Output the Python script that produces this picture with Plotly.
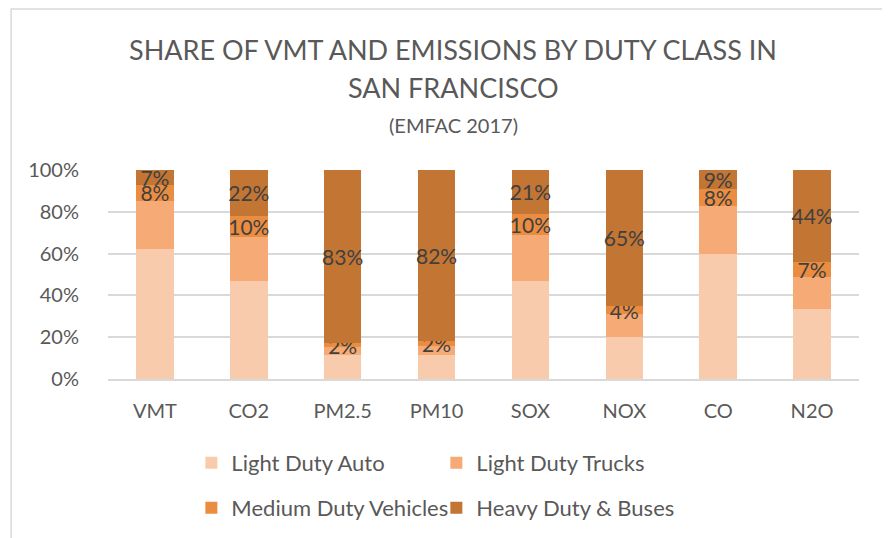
import plotly.graph_objects as go

categories = ["VMT", "CO2", "PM2.5", "PM10", "SOX", "NOX", "CO", "N2O"]
light_duty_auto = [0.62, 0.47, 0.115, 0.115, 0.47, 0.20, 0.60, 0.335]
light_duty_trucks = [0.23, 0.21, 0.038, 0.045, 0.22, 0.11, 0.23, 0.155]
medium_duty = [0.08, 0.10, 0.017, 0.02, 0.10, 0.04, 0.08, 0.07]
heavy_duty = [0.07, 0.22, 0.83, 0.82, 0.21, 0.65, 0.09, 0.44]

series = [
    ("Light Duty Auto", light_duty_auto, "#F8CBAD", False, "legend"),
    ("Light Duty Trucks", light_duty_trucks, "#F6AA75", False, "legend"),
    ("Medium Duty Vehicles", medium_duty, "#EB8D40", True, "legend2"),
    ("Heavy Duty & Buses", heavy_duty, "#C37533", True, "legend2"),
]

FONT = "Lato"
GREY = "#595959"

fig = go.Figure()
for name, vals, color, labels, leg in series:
    fig.add_trace(go.Bar(
        x=categories, y=vals, name=name, marker_color=color,
        marker_line_width=0,
        texttemplate="%{y:.0%}" if labels else None,
        textposition="inside" if labels else "none",
        insidetextanchor="middle",
        textangle=0,
        constraintext="none",
        textfont=dict(family=FONT, size=21, color="#404040"),
        legend=leg,
        hoverinfo="skip",
    ))

legend_common = dict(orientation="h", xanchor="left", yanchor="middle",
                     traceorder="normal",
                     font=dict(family=FONT, size=22, color=GREY), entrywidth=200,
                     itemwidth=30, bgcolor="rgba(0,0,0,0)")
fig.update_layout(
    width=890, height=538,
    barmode="stack", bargap=0.6,
    paper_bgcolor="white", plot_bgcolor="white",
    margin=dict(l=100, r=39, t=162, b=167, autoexpand=False),
    font=dict(family=FONT, color=GREY),
    showlegend=True,
    legend=dict(x=0.111, y=-0.402, **legend_common),
    legend2=dict(x=0.111, y=-0.617, **legend_common),
)

fig.update_yaxes(range=[0, 1], tickformat=".0%", dtick=0.2,
                 showgrid=True, gridcolor="#D9D9D9", gridwidth=1.5,
                 zeroline=False, showline=False,
                 tickfont=dict(family=FONT, size=20, color=GREY),
                 ticks="", ticklabelstandoff=28)
fig.update_xaxes(showline=True, linecolor="#D9D9D9", linewidth=1.5,
                 tickfont=dict(family=FONT, size=20, color=GREY), ticks="",
                 ticklabelstandoff=13)

# title lines
fig.add_annotation(text="SHARE OF VMT AND EMISSIONS BY DUTY CLASS IN",
                   xref="paper", yref="paper", x=0.46, y=(379 - 50) / 209, xanchor="center",
                   yanchor="middle", showarrow=False,
                   font=dict(family=FONT, size=27, color=GREY))
fig.add_annotation(text="SAN FRANCISCO",
                   xref="paper", yref="paper", x=0.46, y=(379 - 88) / 209, xanchor="center",
                   yanchor="middle", showarrow=False,
                   font=dict(family=FONT, size=27, color=GREY))
fig.add_annotation(text="(EMFAC 2017)", xref="paper", yref="paper", x=0.46,
                   y=(379 - 125) / 209,
                   xanchor="center", yanchor="middle", showarrow=False,
                   font=dict(family=FONT, size=20, color=GREY))

# chart border
fig.add_shape(type="rect", xref="paper", yref="paper", x0=-0.129, x1=1.036,
              y0=-0.85, y1=1.77, line=dict(color="#D9D9D9", width=1.5), layer="below")

fig.write_html("out.html")
